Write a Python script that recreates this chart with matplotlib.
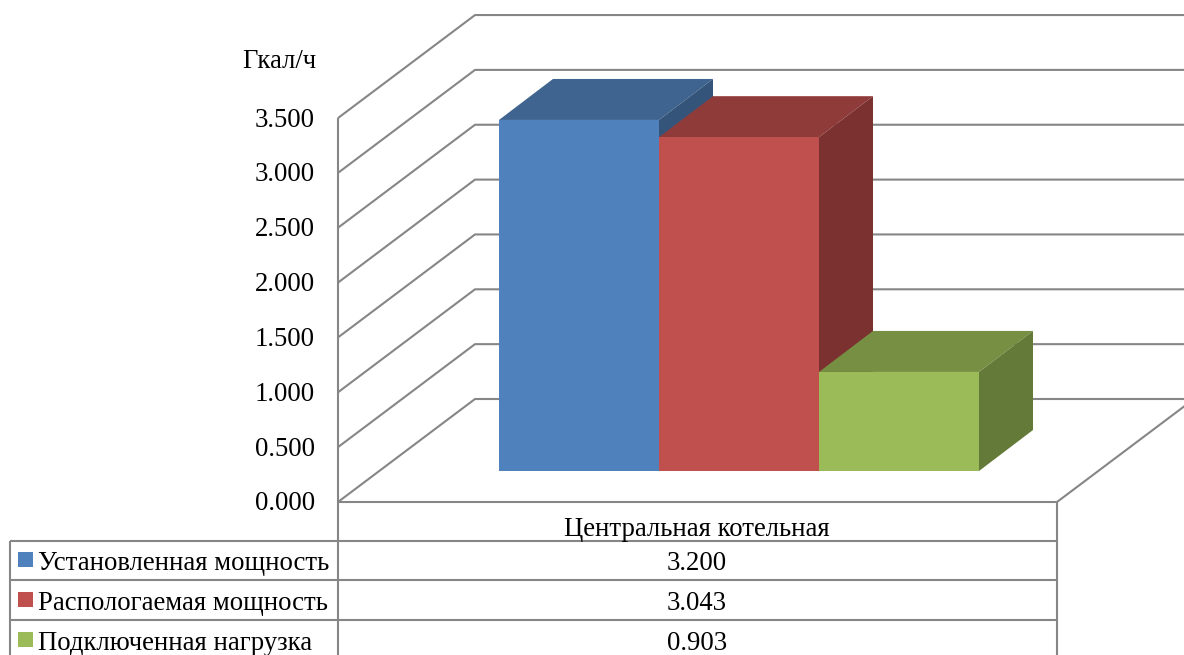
import matplotlib
matplotlib.use('Agg')
import matplotlib.pyplot as plt
from matplotlib.patches import Polygon, Rectangle

plt.rcParams['font.family'] = ['Liberation Serif', 'DejaVu Serif']

category = 'Центральная котельная'
series = ['Установленная мощность', 'Распологаемая мощность', 'Подключенная нагрузка']
values = [3.200, 3.043, 0.903]
ticks = [0.0, 0.5, 1.0, 1.5, 2.0, 2.5, 3.0, 3.5]
unit = 'Гкал/ч'

front_colors = ['#4f81bd', '#c0504d', '#9bbb59']
top_colors = ['#3e648f', '#8f3b39', '#768f43']
side_colors = ['#34547a', '#7b3130', '#647a38']
grid_color = '#868686'
font_size = 19.3

# everything is laid out in picture pixels, y going down
W, H = 1184, 655
fig = plt.figure(figsize=(W / 100, H / 100), dpi=100)
ax = fig.add_axes([0, 0, 1, 1])
ax.set_xlim(0, W)
ax.set_ylim(H, 0)
ax.axis('off')

px_per_unit = 109.7
floor_y = 502
wall_x = 338
depth_x, depth_y = 137, 103


def val_y(v, base=floor_y):
    return base - v * px_per_unit


def grid_line(xs, ys, lw=1.5):
    ax.plot(xs, ys, color=grid_color, lw=lw, zorder=1, solid_capstyle='butt')


# walls
grid_line([wall_x, wall_x], [val_y(ticks[-1]), H])
for t in ticks:
    y = val_y(t)
    grid_line([wall_x, wall_x + depth_x, W], [y, y - depth_y, y - depth_y])
    ax.text(315, y + 2, f'{t:.3f}', ha='right', va='center', fontsize=font_size, color='black')
ax.text(316, 61, unit, ha='right', va='center', fontsize=font_size, color='black')

# floor
grid_line([wall_x, 1057], [floor_y, floor_y])
grid_line([1057, 1057 + depth_x], [floor_y, floor_y - depth_y])

# bars
bar_left, bar_w, bar_base = 499, 160, 471
bar_dx, bar_dy = 54, 41
for i, v in enumerate(values):
    x0 = bar_left + i * bar_w
    x1 = x0 + bar_w
    top = val_y(v, bar_base)
    z = 3 + i
    ax.add_patch(Polygon([(x0, top), (x0 + bar_dx, top - bar_dy), (x1 + bar_dx, top - bar_dy), (x1, top)],
                         fc=top_colors[i], ec='none', zorder=z))
    ax.add_patch(Polygon([(x1, top), (x1 + bar_dx, top - bar_dy), (x1 + bar_dx, bar_base - bar_dy), (x1, bar_base)],
                         fc=side_colors[i], ec='none', zorder=z))
    ax.add_patch(Rectangle((x0, top), bar_w, bar_base - top, fc=front_colors[i], ec='none', zorder=z))

# data table
rows_y = [541, 580, 620]
text_y = [563, 603, 643]
key_y = [552, 592, 632]
grid_line([1057, 1057], [floor_y, H])
grid_line([10, 10], [rows_y[0], H])
ax.text(697, 529, category, ha='center', va='center', fontsize=font_size, color='black')
for i, name in enumerate(series):
    y = rows_y[i]
    grid_line([10, 1057], [y, y])
    ax.add_patch(Rectangle((18, key_y[i]), 15, 14.5, fc=front_colors[i], ec='none', zorder=2))
    ax.text(38, text_y[i], name, ha='left', va='center', fontsize=font_size, color='black')
    ax.text(697, text_y[i], f'{values[i]:.3f}', ha='center', va='center', fontsize=font_size, color='black')

fig.savefig('out.png', dpi=100)
